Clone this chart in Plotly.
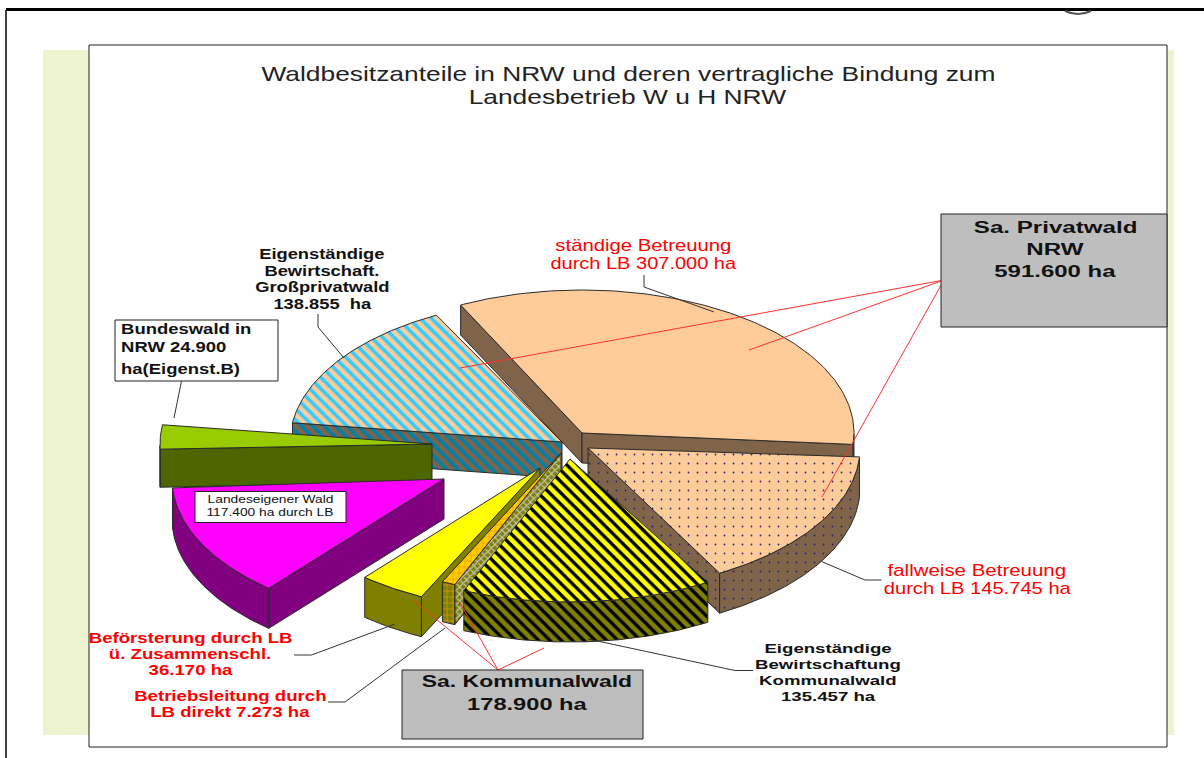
import json
import math
import plotly.graph_objects as go

# ---------- data ----------
slice_names = ["ständige Betreuung", "fallweise Betreuung", "Eigenständige Bewirtschaftung Kommunalwald",
               "Betriebsleitung direkt", "Beförsterung Zusammenschl.", "Landeseigener Wald",
               "Bundeswald", "Großprivatwald"]
slice_values = [307000, 145745, 135457, 7273, 36170, 117400, 24900, 138855]

START_ANGLE = 117.5
RX, RY = 272.0, 143.0
CX, CY = 540.0, 450.0

# explode offset from the common pie centre, extrusion height and perspective rotation, per slice
offset_x = [42, 48, 30, 21, 0, -96, -108, 22]
offset_y = [-17, -2, 9, 3, 18, 29, -6, -8]
depth = [30, 40, 40, 40, 40, 40, 38, 36]
rotation = [-1, 0, 1.5, 1.5, 1.5, 1.5, 0, 0]


def hatch(bg, fg, shape, size, solidity):
    return dict(bg=bg, fg=fg, shape=shape, size=size, solidity=solidity)


top_style = [
    dict(bg="#FFCC99"),
    hatch("#FFCC99", "#23237a", ".", 9, 0.03),
    hatch("#FFFF00", "#000000", "\\", 8, 0.42),
    hatch("#FFCC00", "#E89A00", "+", 6, 0.2),
    dict(bg="#FFFF00"),
    dict(bg="#FF00FF"),
    dict(bg="#99CC00"),
    hatch("#FFCC99", "#33CCFF", "\\", 8, 0.45),
]
side_style = [
    dict(bg="#7F6449"),
    hatch("#7F6449", "#23237a", ".", 9, 0.03),
    hatch("#808000", "#000000", "\\", 8, 0.42),
    hatch("#808000", "#C4C4C4", "x", 5, 0.4),
    dict(bg="#808000"),
    dict(bg="#800080"),
    dict(bg="#4D6600"),
    hatch("#7F6449", "#007FA8", "\\", 8, 0.45),
]
rim_style = list(side_style)
rim_style[3] = hatch("#808000", "#E89A00", "+", 6, 0.2)
draw_order = [0, 7, 1, 6, 5, 4, 3, 2]

# text: (line, x, y, size, colour, bold, anchor, horizontal stretch)
RED = "#FF0000"
INK = "#111111"
labels = [
    ("Waldbesitzanteile in NRW und deren vertragliche Bindung zum", 628, 73, 20.5, "#222222", False, "center", 1.286),
    ("Landesbetrieb W u H NRW", 628, 96, 20.5, "#222222", False, "center", 1.286),
    ("Eigenständige", 322, 254, 14, INK, True, "center", 1.31),
    ("Bewirtschaft.", 322, 271, 14, INK, True, "center", 1.31),
    ("Großprivatwald", 322, 287, 14, INK, True, "center", 1.31),
    ("138.855  ha", 322, 304, 14, INK, True, "center", 1.31),
    ("ständige Betreuung", 643, 245, 16, RED, False, "center", 1.27),
    ("durch LB 307.000 ha", 643, 263, 16, RED, False, "center", 1.25),
    ("Bundeswald in", 119, 329, 14, INK, True, "left", 1.32),
    ("NRW 24.900", 119, 347, 14, INK, True, "left", 1.32),
    ("ha(Eigenst.B)", 119, 369, 14, INK, True, "left", 1.32),
    ("Landeseigener Wald", 270, 499, 11.5, INK, False, "center", 1.2),
    ("117.400 ha durch LB", 270, 512, 11.5, INK, False, "center", 1.2),
    ("Beförsterung durch LB", 190, 638, 14, RED, True, "center", 1.33),
    ("ü. Zusammenschl.", 190, 654, 14, RED, True, "center", 1.33),
    ("36.170 ha", 190, 670, 14, RED, True, "center", 1.33),
    ("Betriebsleitung durch", 230, 696, 14, RED, True, "center", 1.33),
    ("LB direkt 7.273 ha", 230, 712, 14, RED, True, "center", 1.33),
    ("Sa. Privatwald", 1055, 227, 17, INK, True, "center", 1.42),
    ("NRW", 1055, 249, 17, INK, True, "center", 1.42),
    ("591.600 ha", 1055, 271, 17, INK, True, "center", 1.41),
    ("Sa. Kommunalwald", 527, 681, 17, INK, True, "center", 1.35),
    ("178.900 ha", 527, 704, 17, INK, True, "center", 1.39),
    ("Eigenständige", 828, 648, 13.5, INK, True, "center", 1.38),
    ("Bewirtschaftung", 828, 664, 13.5, INK, True, "center", 1.38),
    ("Kommunalwald", 828, 680, 13.5, INK, True, "center", 1.38),
    ("135.457 ha", 828, 696, 13.5, INK, True, "center", 1.38),
    ("fallweise Betreuung", 977, 570, 16, RED, False, "center", 1.28),
    ("durch LB 145.745 ha", 977, 588, 16, RED, False, "center", 1.26),
]

# ---------- wedges, derived from the values ----------
total = sum(slice_values)
fig = go.Figure()


def add_poly(xs, ys, style):
    pattern = None
    if "shape" in style:
        pattern = dict(shape=style["shape"], fgcolor=style["fg"], bgcolor=style["bg"], fgopacity=1,
                       fillmode="replace", size=style["size"], solidity=style["solidity"])
    fig.add_trace(go.Scatter(
        x=xs, y=ys, mode="lines", fill="toself", fillcolor=style["bg"],
        fillpattern=pattern, line=dict(color="#2a2a2a", width=1),
        hoverinfo="skip", showlegend=False))


angles = []
a = START_ANGLE
for v, rot in zip(slice_values, rotation):
    sweep = 360.0 * v / total
    angles.append((a + rot, a + rot - sweep))
    a -= sweep

for i in draw_order:
    t1, t2 = angles[i]
    ax, ay = CX + offset_x[i], CY + offset_y[i]
    d = depth[i]
    n = max(6, int((t1 - t2) * 1.5))
    arc = [t1 + (t2 - t1) * k / n for k in range(n + 1)]
    px = lambda t: ax + RX * math.cos(math.radians(t))
    py = lambda t: ay - RY * math.sin(math.radians(t))
    # cut faces
    for t, test in ((t1, math.cos(math.radians(t1)) < 0), (t2, math.cos(math.radians(t2)) > 0)):
        if test:
            add_poly([ax, px(t), px(t), ax, ax], [ay, py(t), py(t) + d, ay + d, ay], side_style[i])
    # rim
    front = [t for t in arc if math.sin(math.radians(t)) <= 0]
    if len(front) > 1:
        xs = [px(t) for t in front]
        ys = [py(t) for t in front]
        add_poly(xs + xs[::-1] + xs[:1], ys + [y + d for y in ys[::-1]] + ys[:1], rim_style[i])
    # top
    xs = [ax] + [px(t) for t in arc] + [ax]
    ys = [ay] + [py(t) for t in arc] + [ay]
    add_poly(xs, ys, top_style[i])

# ---------- page furniture ----------
shapes = [
    dict(type="rect", x0=43, x1=1174, y0=50, y1=735, fillcolor="#EEF3CF", line_width=0, layer="below"),
    dict(type="rect", x0=89, x1=1167, y0=45, y1=747, fillcolor="#FFFFFF",
         line=dict(color="#222222", width=1), layer="below"),
    dict(type="line", x0=6, x1=1204, y0=9.5, y1=9.5, line=dict(color="#000000", width=3), layer="below"),
    dict(type="line", x0=6, x1=6, y0=10, y1=758, line=dict(color="#000000", width=1.5), layer="below"),
    dict(type="path", path="M 1065,11 Q 1078,17 1091,11", line=dict(color="#555555", width=2), layer="below"),
]


def poly(points, color, width=1):
    path = "M " + " L ".join(f"{x},{y}" for x, y in points)
    return dict(type="path", path=path, line=dict(color=color, width=width))


LEAD = "#333333"
for pts in [
    [(318, 314), (318, 327), (344, 358)],
    [(181.5, 381), (174, 418)],
    [(644, 275), (644, 287), (714, 312)],
    [(821.5, 561.5), (865, 580), (881.5, 580)],
    [(588, 639), (735, 670.5), (753, 670.5)],
    [(395, 624), (311.5, 655), (294, 655)],
    [(445, 628), (345, 702), (328, 702)],
]:
    shapes.append(poly(pts, LEAD))
for pts in [
    [(944, 280), (460, 368)],
    [(944, 280), (749, 350)],
    [(944, 280), (822, 497)],
    [(498, 670), (413, 600)],
    [(498, 670), (459, 601)],
    [(498, 670), (544, 648)],
]:
    shapes.append(poly(pts, "#FF3030"))
for x0, x1, y0, y1, fill in [
    (941, 1167, 214, 327, "#BEBEBE"),
    (402, 643, 670, 739, "#BEBEBE"),
    (115, 278, 320, 381, "#FFFFFF"),
    (195, 346, 491.5, 522.5, "#FFFFFF"),
]:
    shapes.append(dict(type="rect", x0=x0, x1=x1, y0=y0, y1=y1, fillcolor=fill,
                       line=dict(color="#222222", width=1)))

annotations = []
for text, x, y, size, color, bold, anchor, _ in labels:
    annotations.append(dict(
        x=x, y=y, xref="x", yref="y", text=f"<b>{text}</b>" if bold else text, showarrow=False,
        xanchor=anchor, yanchor="middle",
        font=dict(family="Liberation Sans, Arial, sans-serif", size=size, color=color)))

fig.update_layout(
    width=1204, height=758, margin=dict(l=0, r=0, t=0, b=0),
    paper_bgcolor="#FFFFFF", plot_bgcolor="rgba(0,0,0,0)", showlegend=False,
    xaxis=dict(range=[0, 1204], visible=False, fixedrange=True),
    yaxis=dict(range=[758, 0], visible=False, fixedrange=True),
    shapes=shapes, annotations=annotations,
)

# The reference's text is horizontally stretched; scale each label about its anchor.
stretch = json.dumps([[lab[7], lab[6]] for lab in labels])
post = """
document.body.style.margin='0';
document.documentElement.style.overflow='hidden';
(function(){
  var s = %s;
  document.querySelectorAll('.annotation-text').forEach(function(t, i){
    var b = t.getBBox();
    var cx = s[i][1] === 'left' ? b.x : b.x + b.width / 2;
    t.setAttribute('transform', 'translate(' + cx + ',0) scale(' + s[i][0] + ',1) translate(' + (-cx) + ',0)');
  });
})();
""" % stretch
fig.write_html("out.html", config=dict(displayModeBar=False), post_script=post)
